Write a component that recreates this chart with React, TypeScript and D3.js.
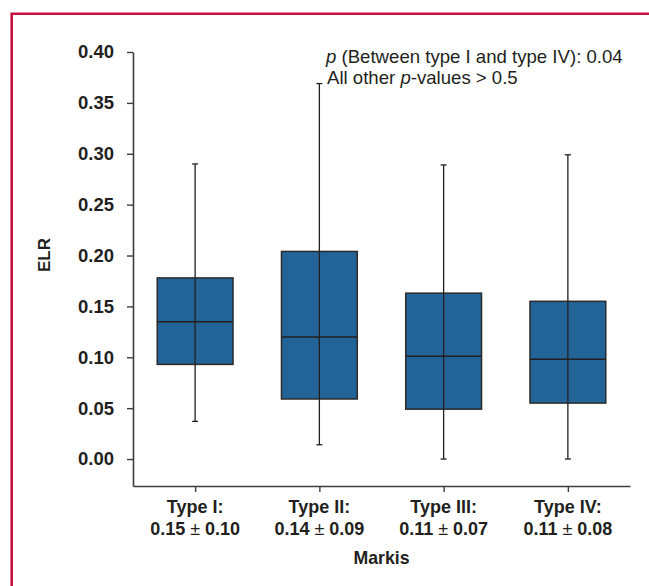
import React, { useEffect, useRef } from 'react';
import * as d3 from 'd3';

const CATEGORIES = ["Type I:", "Type II:", "Type III:", "Type IV:"];
const MEAN_SD = ["0.15|0.10", "0.14|0.09", "0.11|0.07", "0.11|0.08"];
const WHISKER_LOW = [0.037, 0.014, 0.0, 0.0];
const Q1 = [0.093, 0.059, 0.049, 0.055];
const MEDIAN = [0.135, 0.120, 0.101, 0.098];
const Q3 = [0.178, 0.204, 0.163, 0.155];
const WHISKER_HIGH = [0.290, 0.369, 0.289, 0.299];
const Y_TICKS = [0, 0.05, 0.1, 0.15, 0.2, 0.25, 0.3, 0.35, 0.4];

const FONT = "'Liberation Sans', Arial, Helvetica, sans-serif";
const INK = "#231f20";
const BOX_FILL = "#236498";

function App() {
    const svgRef = useRef(null);
    const W = 649;
    const H = 586;
    const left = 133, right = 630, top = 52, bottom = 486;

    useEffect(() => {
        const svg = d3.select(svgRef.current);
        svg.selectAll("*").remove();

        // page frame
        svg.append("path")
            .attr("d", `M11.7,${H} V13.7 H${W}`)
            .attr("fill", "none")
            .attr("stroke", "#c8103e")
            .attr("stroke-width", 2.6);

        const yScale = d3.scaleLinear()
            .domain([-0.0265, 0.4])
            .range([bottom, top]);

        const xScale = d3.scalePoint()
            .domain(CATEGORIES)
            .range([left, right])
            .padding(0.5);

        const step = xScale.step();
        const boxW = step * 0.61;

        // y axis
        const yAxis = svg.append("g")
            .attr("transform", `translate(${left},0)`)
            .call(d3.axisLeft(yScale).tickValues(Y_TICKS).tickFormat(d3.format(".2f")).tickSize(6).tickPadding(13).tickSizeOuter(0));
        yAxis.select(".domain").attr("stroke", "#3c3c3c").attr("stroke-width", 1.6);
        yAxis.selectAll(".tick line").attr("stroke", "#3c3c3c").attr("stroke-width", 1.4);
        yAxis.selectAll(".tick text")
            .attr("fill", INK)
            .style("font-family", FONT)
            .style("font-size", "18.5px")
            .style("font-weight", "bold");

        // x axis
        const xAxis = svg.append("g")
            .attr("transform", `translate(0,${bottom})`)
            .call(d3.axisBottom(xScale).tickSize(6).tickSizeOuter(0).tickFormat(() => ""));
        xAxis.select(".domain").attr("stroke", "#3c3c3c").attr("stroke-width", 1.6);
        xAxis.selectAll(".tick line").attr("stroke", "#3c3c3c").attr("stroke-width", 1.4);

        const labels = svg.append("g")
            .style("font-family", FONT)
            .style("font-size", "18px")
            .style("font-weight", "bold")
            .attr("fill", INK)
            .attr("text-anchor", "middle");

        CATEGORIES.forEach((c, i) => {
            const x = xScale(c);
            labels.append("text").attr("x", x).attr("y", 513).text(c);
            const [m, s] = MEAN_SD[i].split("|");
            const t = labels.append("text").attr("x", x).attr("y", 534.5);
            t.append("tspan").text(m + " ");
            t.append("tspan").style("font-weight", "normal").text("±");
            t.append("tspan").text(" " + s);
        });

        labels.append("text")
            .attr("x", (left + right) / 2)
            .attr("y", 564)
            .style("font-size", "17.7px")
            .text("Markis");

        labels.append("text")
            .attr("transform", `translate(50,${255}) rotate(-90)`)
            .style("font-size", "17px")
            .text("ELR");

        // boxes
        const g = svg.append("g");
        CATEGORIES.forEach((c, i) => {
            const x = xScale(c);
            g.append("line")
                .attr("x1", x).attr("x2", x)
                .attr("y1", yScale(WHISKER_LOW[i])).attr("y2", yScale(WHISKER_HIGH[i]))
                .attr("stroke", INK).attr("stroke-width", 1.3);
            [WHISKER_LOW[i], WHISKER_HIGH[i]].forEach(v => {
                g.append("line")
                    .attr("x1", x - 3).attr("x2", x + 3)
                    .attr("y1", yScale(v)).attr("y2", yScale(v))
                    .attr("stroke", INK).attr("stroke-width", 1.3);
            });
            g.append("rect")
                .attr("x", x - boxW / 2)
                .attr("y", yScale(Q3[i]))
                .attr("width", boxW)
                .attr("height", yScale(Q1[i]) - yScale(Q3[i]))
                .attr("fill", BOX_FILL)
                .attr("stroke", "#2b2b2b")
                .attr("stroke-width", 1.5);
            g.append("line")
                .attr("x1", x).attr("x2", x)
                .attr("y1", yScale(Q3[i])).attr("y2", yScale(Q1[i]))
                .attr("stroke", INK).attr("stroke-width", 1.3);
            g.append("line")
                .attr("x1", x - boxW / 2).attr("x2", x + boxW / 2)
                .attr("y1", yScale(MEDIAN[i])).attr("y2", yScale(MEDIAN[i]))
                .attr("stroke", INK).attr("stroke-width", 1.5);
        });

        // annotation
        const note = svg.append("g")
            .style("font-family", FONT)
            .style("font-size", "18.6px")
            .attr("fill", INK);
        const l1 = note.append("text").attr("x", 326).attr("y", 63);
        l1.append("tspan").style("font-style", "italic").text("p");
        l1.append("tspan").text(" (Between type I and type IV): 0.04");
        const l2 = note.append("text").attr("x", 327).attr("y", 84);
        l2.append("tspan").text("All other ");
        l2.append("tspan").style("font-style", "italic").text("p");
        l2.append("tspan").text("-values > 0.5");
    }, []);

    return (
        <div style={{ position: "absolute", left: 0, top: 0 }}>
            <svg ref={svgRef} width={W} height={H} style={{ display: "block", background: "#fff" }} />
        </div>
    );
}

export default App;
